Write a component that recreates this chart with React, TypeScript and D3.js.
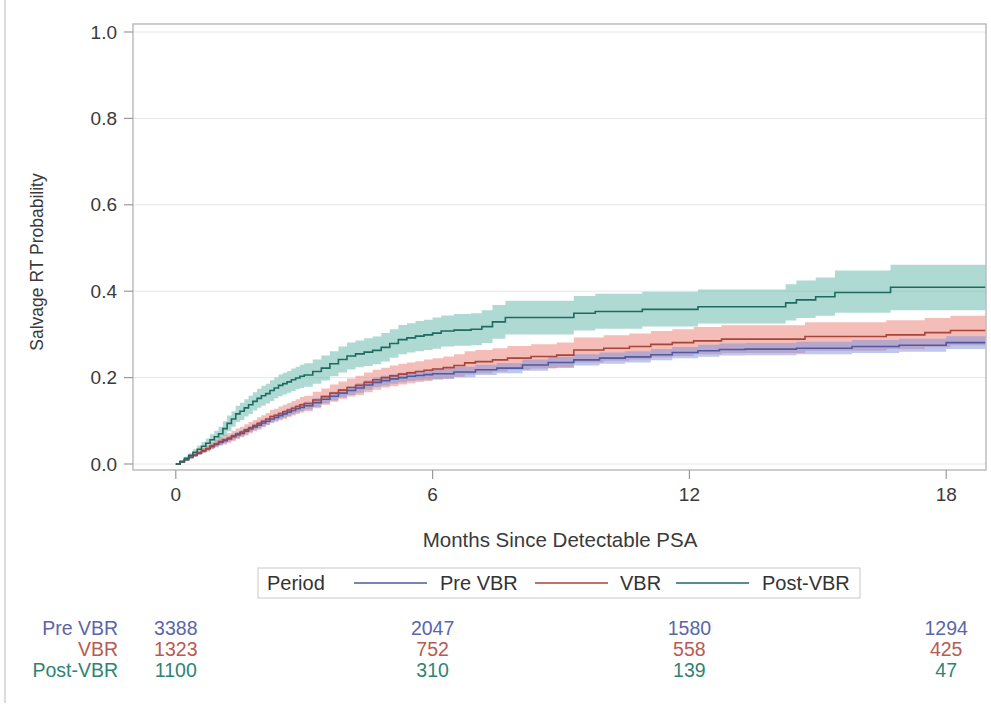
import React from "react";
import * as d3 from "d3";

// [months, estimate, lowerCL, upperCL]
const preVbr: [number, number, number, number][] = [
  [0, 0, 0, 0], [0.1, 0.005, 0.004, 0.006], [0.2, 0.01, 0.008, 0.012], [0.3, 0.015, 0.013, 0.017],
  [0.4, 0.02, 0.017, 0.023], [0.5, 0.025, 0.021, 0.029], [0.6, 0.03, 0.026, 0.034], [0.7, 0.035, 0.031, 0.039],
  [0.8, 0.04, 0.035, 0.045], [0.9, 0.045, 0.04, 0.05], [1.0, 0.05, 0.044, 0.056], [1.1, 0.054, 0.048, 0.06],
  [1.2, 0.058, 0.052, 0.064], [1.3, 0.063, 0.056, 0.07], [1.4, 0.067, 0.06, 0.074], [1.5, 0.071, 0.064, 0.078],
  [1.6, 0.076, 0.069, 0.083], [1.7, 0.081, 0.074, 0.088], [1.8, 0.086, 0.079, 0.093], [1.9, 0.09, 0.082, 0.098],
  [2.0, 0.095, 0.087, 0.103], [2.1, 0.099, 0.091, 0.107], [2.2, 0.104, 0.096, 0.112], [2.3, 0.108, 0.1, 0.116],
  [2.4, 0.112, 0.104, 0.12], [2.5, 0.116, 0.107, 0.125], [2.6, 0.12, 0.111, 0.129], [2.7, 0.124, 0.115, 0.133],
  [2.8, 0.128, 0.119, 0.137], [2.9, 0.131, 0.122, 0.14], [3.0, 0.135, 0.126, 0.144], [3.2, 0.142, 0.132, 0.152],
  [3.4, 0.15, 0.14, 0.16], [3.6, 0.157, 0.147, 0.167], [3.8, 0.164, 0.154, 0.174], [4.0, 0.17, 0.16, 0.18],
  [4.2, 0.176, 0.165, 0.187], [4.4, 0.183, 0.172, 0.194], [4.6, 0.189, 0.178, 0.2], [4.8, 0.193, 0.182, 0.204],
  [5.0, 0.197, 0.186, 0.208], [5.2, 0.2, 0.189, 0.211], [5.4, 0.203, 0.192, 0.214], [5.6, 0.205, 0.194, 0.216],
  [5.8, 0.207, 0.195, 0.219], [6.0, 0.209, 0.197, 0.221], [6.5, 0.213, 0.201, 0.225], [7.0, 0.218, 0.206, 0.23],
  [7.5, 0.222, 0.21, 0.234], [8.1, 0.229, 0.216, 0.242], [8.7, 0.235, 0.222, 0.248], [9.3, 0.241, 0.228, 0.254],
  [9.9, 0.245, 0.232, 0.258], [10.5, 0.248, 0.235, 0.261], [11.1, 0.253, 0.24, 0.266], [11.6, 0.258, 0.245, 0.271],
  [12.2, 0.262, 0.248, 0.276], [12.7, 0.265, 0.251, 0.279], [13.3, 0.266, 0.252, 0.28], [14.5, 0.268, 0.254, 0.283],
  [15.8, 0.272, 0.257, 0.287], [16.9, 0.275, 0.26, 0.29], [18.0, 0.281, 0.266, 0.296],
];

const vbr: [number, number, number, number][] = [
  [0, 0, 0, 0], [0.1, 0.005, 0.004, 0.006], [0.2, 0.01, 0.008, 0.012], [0.3, 0.016, 0.013, 0.019],
  [0.4, 0.021, 0.017, 0.025], [0.5, 0.026, 0.021, 0.031], [0.6, 0.031, 0.025, 0.037], [0.7, 0.036, 0.029, 0.043],
  [0.8, 0.042, 0.034, 0.05], [0.9, 0.047, 0.038, 0.056], [1.0, 0.052, 0.042, 0.062], [1.1, 0.056, 0.045, 0.067],
  [1.2, 0.06, 0.049, 0.071], [1.3, 0.065, 0.053, 0.077], [1.4, 0.07, 0.058, 0.082], [1.5, 0.074, 0.062, 0.086],
  [1.6, 0.079, 0.066, 0.092], [1.7, 0.084, 0.071, 0.097], [1.8, 0.089, 0.076, 0.102], [1.9, 0.094, 0.08, 0.108],
  [2.0, 0.099, 0.085, 0.113], [2.1, 0.104, 0.09, 0.118], [2.2, 0.11, 0.095, 0.125], [2.3, 0.113, 0.098, 0.128],
  [2.4, 0.117, 0.101, 0.133], [2.5, 0.121, 0.105, 0.137], [2.6, 0.125, 0.109, 0.141], [2.7, 0.129, 0.112, 0.146],
  [2.8, 0.133, 0.116, 0.15], [2.9, 0.137, 0.119, 0.155], [3.0, 0.14, 0.122, 0.158], [3.2, 0.148, 0.129, 0.167],
  [3.4, 0.156, 0.137, 0.175], [3.6, 0.164, 0.144, 0.184], [3.8, 0.171, 0.151, 0.191], [4.0, 0.177, 0.156, 0.198],
  [4.2, 0.182, 0.16, 0.204], [4.4, 0.189, 0.166, 0.212], [4.6, 0.195, 0.172, 0.218], [4.8, 0.2, 0.177, 0.223],
  [5.0, 0.204, 0.18, 0.228], [5.2, 0.208, 0.184, 0.232], [5.4, 0.211, 0.187, 0.235], [5.6, 0.214, 0.19, 0.238],
  [5.8, 0.217, 0.192, 0.242], [6.0, 0.22, 0.195, 0.245], [6.25, 0.223, 0.198, 0.249], [6.5, 0.228, 0.202, 0.254],
  [6.75, 0.234, 0.207, 0.261], [7.0, 0.237, 0.21, 0.264], [7.4, 0.241, 0.214, 0.268], [7.75, 0.245, 0.218, 0.273],
  [8.3, 0.249, 0.221, 0.277], [8.9, 0.252, 0.224, 0.281], [9.3, 0.264, 0.235, 0.293], [10.0, 0.268, 0.239, 0.298],
  [10.6, 0.272, 0.242, 0.302], [11.1, 0.277, 0.247, 0.308], [11.6, 0.281, 0.25, 0.312], [12.1, 0.285, 0.254, 0.317],
  [12.75, 0.289, 0.257, 0.321], [14.7, 0.295, 0.262, 0.328], [16.6, 0.299, 0.266, 0.333], [17.5, 0.304, 0.27, 0.338],
  [18.1, 0.309, 0.275, 0.343],
];

const postVbr: [number, number, number, number][] = [
  [0, 0, 0, 0], [0.1, 0.006, 0.004, 0.008], [0.2, 0.013, 0.009, 0.017], [0.3, 0.02, 0.015, 0.025],
  [0.4, 0.027, 0.02, 0.034], [0.5, 0.034, 0.026, 0.042], [0.6, 0.041, 0.031, 0.051], [0.7, 0.048, 0.037, 0.059],
  [0.8, 0.056, 0.043, 0.069], [0.9, 0.063, 0.049, 0.077], [1.0, 0.07, 0.054, 0.086], [1.1, 0.082, 0.065, 0.099],
  [1.2, 0.094, 0.076, 0.112], [1.3, 0.104, 0.086, 0.122], [1.4, 0.116, 0.097, 0.135], [1.5, 0.122, 0.102, 0.142],
  [1.6, 0.13, 0.11, 0.15], [1.7, 0.137, 0.116, 0.158], [1.8, 0.145, 0.124, 0.166], [1.9, 0.152, 0.13, 0.174],
  [2.0, 0.158, 0.135, 0.181], [2.1, 0.163, 0.14, 0.186], [2.2, 0.17, 0.146, 0.194], [2.3, 0.176, 0.152, 0.2],
  [2.4, 0.182, 0.157, 0.207], [2.5, 0.186, 0.161, 0.211], [2.6, 0.19, 0.165, 0.215], [2.7, 0.195, 0.169, 0.221],
  [2.8, 0.199, 0.173, 0.225], [2.9, 0.203, 0.176, 0.23], [3.0, 0.206, 0.179, 0.233], [3.2, 0.214, 0.186, 0.242],
  [3.4, 0.222, 0.193, 0.251], [3.6, 0.232, 0.203, 0.261], [3.8, 0.242, 0.212, 0.272], [4.0, 0.25, 0.219, 0.281],
  [4.2, 0.255, 0.224, 0.286], [4.4, 0.259, 0.227, 0.291], [4.6, 0.263, 0.231, 0.295], [4.8, 0.27, 0.237, 0.303],
  [5.0, 0.279, 0.246, 0.312], [5.2, 0.288, 0.254, 0.322], [5.4, 0.292, 0.258, 0.326], [5.6, 0.296, 0.261, 0.331],
  [5.8, 0.299, 0.264, 0.334], [6.0, 0.303, 0.267, 0.339], [6.2, 0.308, 0.272, 0.344], [6.5, 0.31, 0.274, 0.347],
  [6.9, 0.312, 0.275, 0.349], [7.15, 0.318, 0.28, 0.356], [7.4, 0.329, 0.29, 0.368], [7.7, 0.339, 0.3, 0.378],
  [9.3, 0.349, 0.309, 0.389], [9.8, 0.353, 0.313, 0.394], [10.9, 0.358, 0.318, 0.399], [12.2, 0.364, 0.325, 0.404],
  [14.25, 0.373, 0.332, 0.416], [14.5, 0.38, 0.338, 0.425], [14.95, 0.387, 0.343, 0.432], [15.4, 0.397, 0.35, 0.448],
  [16.7, 0.409, 0.356, 0.461],
];

const seriesNames = ["Pre VBR", "VBR", "Post-VBR"];
const yTicks = [0, 0.2, 0.4, 0.6, 0.8, 1.0];
const xTicks = [0, 6, 12, 18];
const atRiskPre = [3388, 2047, 1580, 1294];
const atRiskVbr = [1323, 752, 558, 425];
const atRiskPost = [1100, 310, 139, 47];

const lineColors = ["#4d5aa0", "#a8443c", "#1d6b60"];
const bandColors = ["#7e8fe0", "#ec7b70", "#5fb5a8"];
const textColors = ["#5b66a8", "#b85a52", "#2e8474"];

const W = 991;
const H = 708;
const frame = { left: 133, right: 986, top: 24, bottom: 470 };
const FONT = "'Liberation Sans', Arial, sans-serif";

export default function App() {
  const x = d3.scaleLinear().domain([-1.0, 18.93]).range([frame.left, frame.right]);
  const y = d3.scaleLinear().domain([0, 1]).range([464, 32]);
  const xMax = x.domain()[1];

  const allSeries = [preVbr, vbr, postVbr].map((s) => {
    const last = s[s.length - 1];
    return [...s, [xMax, last[1], last[2], last[3]] as [number, number, number, number]];
  });

  const line = d3
    .line<[number, number, number, number]>()
    .x((d) => x(d[0]))
    .y((d) => y(d[1]))
    .curve(d3.curveStepAfter);
  const area = d3
    .area<[number, number, number, number]>()
    .x((d) => x(d[0]))
    .y0((d) => y(d[2]))
    .y1((d) => y(d[3]))
    .curve(d3.curveStepAfter);

  const atRisk = [atRiskPre, atRiskVbr, atRiskPost];
  const rowY = [635, 656, 677];

  const legendItems = [
    { lx: 354, tx: 440 },
    { lx: 535, tx: 620 },
    { lx: 676, tx: 762 },
  ];

  return (
    <svg
      width={W}
      height={H}
      style={{ position: "absolute", left: 0, top: 0, background: "#fff" }}
      fontFamily={FONT}
    >
      <rect x={0} y={0} width={W} height={H} fill="#fff" />
      <line x1={5} x2={5} y1={0} y2={703} stroke="#d0d0d0" strokeWidth={1.5} />

      {yTicks.map((t) => (
        <line key={"g" + t} x1={frame.left} x2={frame.right} y1={y(t)} y2={y(t)} stroke="#e6e6e6" strokeWidth={1} />
      ))}

      <defs>
        <clipPath id="plotclip">
          <rect x={frame.left} y={frame.top} width={frame.right - frame.left} height={frame.bottom - frame.top} />
        </clipPath>
      </defs>

      <g clipPath="url(#plotclip)">
        {[2, 1, 0].map((i) => (
          <path key={"b" + i} d={area(allSeries[i]) || ""} fill={bandColors[i]} fillOpacity={0.5} stroke="none" />
        ))}
        {[0, 1, 2].map((i) => (
          <path key={"l" + i} d={line(allSeries[i]) || ""} fill="none" stroke={lineColors[i]} strokeWidth={1.6} />
        ))}
      </g>

      <rect
        x={frame.left}
        y={frame.top}
        width={frame.right - frame.left}
        height={frame.bottom - frame.top}
        fill="none"
        stroke="#bdbdbd"
        strokeWidth={1.5}
      />

      {yTicks.map((t) => (
        <g key={"y" + t}>
          <line x1={frame.left - 9} x2={frame.left} y1={y(t)} y2={y(t)} stroke="#9a9a9a" strokeWidth={1.2} />
          <text x={117} y={y(t)} dy="0.35em" textAnchor="end" fontSize={19} fill="#3a3a3a">
            {d3.format(".1f")(t)}
          </text>
        </g>
      ))}
      <text transform={`translate(43,262) rotate(-90)`} textAnchor="middle" fontSize={17.5} fill="#3a3a3a">
        Salvage RT Probability
      </text>

      {xTicks.map((t) => (
        <g key={"x" + t}>
          <line x1={x(t)} x2={x(t)} y1={frame.bottom} y2={frame.bottom + 9} stroke="#9a9a9a" strokeWidth={1.2} />
          <text x={x(t)} y={501} textAnchor="middle" fontSize={19} fill="#3a3a3a">
            {t}
          </text>
        </g>
      ))}
      <text x={560} y={547} textAnchor="middle" fontSize={20.5} fill="#3a3a3a">
        Months Since Detectable PSA
      </text>

      <rect x={258} y={568} width={602} height={30} fill="#fff" stroke="#c8c8c8" strokeWidth={1} />
      <text x={267} y={590} fontSize={20} fill="#333">
        Period
      </text>
      {legendItems.map((it, i) => (
        <g key={"lg" + i}>
          <line x1={it.lx} x2={it.lx + 73} y1={583} y2={583} stroke={lineColors[i]} strokeWidth={1.8} opacity={0.75} />
          <text x={it.tx} y={590} fontSize={20} fill="#333">
            {seriesNames[i]}
          </text>
        </g>
      ))}

      {seriesNames.map((name, i) => (
        <g key={"ar" + i}>
          <text x={118} y={rowY[i]} textAnchor="end" fontSize={19.5} fill={textColors[i]}>
            {name}
          </text>
          {atRisk[i].map((v, j) => (
            <text key={j} x={x(xTicks[j])} y={rowY[i]} textAnchor="middle" fontSize={19.5} fill={textColors[i]}>
              {v}
            </text>
          ))}
        </g>
      ))}
    </svg>
  );
}
